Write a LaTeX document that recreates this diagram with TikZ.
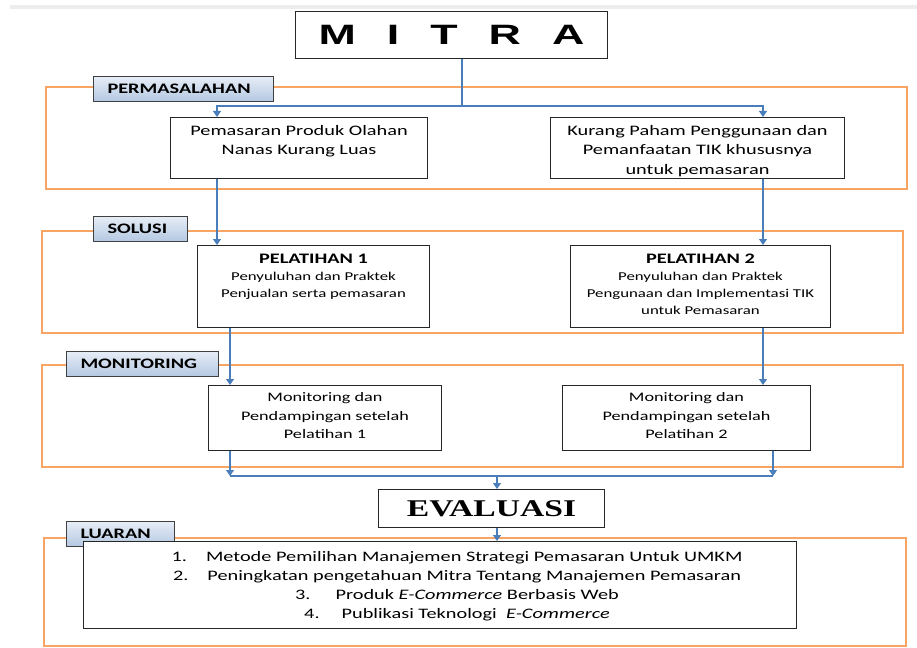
\documentclass[tikz,border=0pt]{standalone}
\usepackage{fontspec}
\setmainfont{Carlito}[FakeStretch=1.4]
\newfontfamily\mitrafont{Liberation Sans}[FakeStretch=1.6]
\newfontfamily\evalfont{Liberation Serif}[FakeStretch=1.4]
\usetikzlibrary{arrows.meta,positioning}
\definecolor{frameorange}{HTML}{F8A465}
\definecolor{linkblue}{HTML}{4A7EBB}
\definecolor{tagtop}{HTML}{E6EDF6}
\definecolor{tagbottom}{HTML}{B4C8E2}
\tikzset{
    frame/.style={
           draw=frameorange,
           line width=1.6pt,
           },
    tag/.style={
           draw=black!75, line width=1pt,
           top color=tagtop, bottom color=tagbottom,
           font=\fontsize{14.5}{17}\selectfont\bfseries,
           anchor=north west,
           inner xsep=14pt, inner ysep=0pt,
           minimum height=25pt,
           align=left,
           },
    box/.style={
           draw=black!85, line width=1pt,
           fill=white,
           anchor=north west,
           inner sep=0pt,
           },
    link/.style={
           draw=linkblue, line width=1.1pt,
           -{Triangle[width=8pt,length=6pt]},
           },
}
% box text: width, height, first baseline, lines
\newcommand{\boxtext}[4]{\parbox[c][#2][t]{#1}{\centering\rule{0pt}{#3}#4}}

\begin{document}
\begin{tikzpicture}[x=1pt,y=-1pt,font=\fontsize{14.5}{19.5}\selectfont]
 \useasboundingbox (0,0) rectangle (917,647);
 \fill[black!7] (10,5) rectangle (917,9);

 % frames
 \draw[frame] (46,87) rectangle (907,189);
 \draw[frame] (42,231) rectangle (903,333);
 \draw[frame] (42,365) rectangle (903,467);
 \draw[frame] (44,538) rectangle (906,646);

 % columns of the connectors
 \coordinate (colL) at (217,0);
 \coordinate (colL2) at (230,0);
 \coordinate (colR) at (763,0);
 \coordinate (colR2) at (773,0);
 \coordinate (colM) at (462,0);
 \coordinate (colE) at (497,0);

 \node[box, minimum width=312pt, minimum height=47pt] (mitra) at (295,11)
 {\mitrafont\bfseries\fontsize{28}{30}\selectfont
  M\hspace{31pt}I\hspace{31pt}T\hspace{31pt}R\hspace{31pt}A};

 \node[tag, text width=152pt] (tagMasalah) at (93,76) {PERMASALAHAN};
 \node[tag, text width=66pt] (tagSolusi) at (93,216) {SOLUSI};
 \node[tag, text width=124pt] (tagMonitor) at (66,351) {MONITORING};
 \node[tag, text width=80pt] (tagLuaran) at (66,521) {LUARAN};

 \node[box] (prob1) at (170,117)
 {\boxtext{257pt}{61pt}{18pt}{Pemasaran Produk Olahan\\ Nanas Kurang Luas}};
 \node[box] (prob2) at (550,117)
 {\boxtext{294pt}{61pt}{18pt}{Kurang Paham Penggunaan dan\\
  Pemanfaatan TIK khususnya\\ untuk pemasaran}};

 \node[box] (pel1) at (197,245)
 {\boxtext{232pt}{82pt}{18pt}{\textbf{PELATIHAN 1}\\
  \fontsize{12}{17}\selectfont Penyuluhan dan Praktek\\
  Penjualan serta pemasaran}};
 \node[box] (pel2) at (570,245)
 {\boxtext{260pt}{82pt}{18pt}{\textbf{PELATIHAN 2}\\
  \fontsize{12}{17}\selectfont Penyuluhan dan Praktek\\
  Pengunaan dan Implementasi TIK\\ untuk Pemasaran}};

 \node[box, font=\fontsize{13}{18.5}\selectfont] (mon1) at (208,385)
 {\boxtext{233pt}{65pt}{16pt}{Monitoring dan\\ Pendampingan setelah\\ Pelatihan 1}};
 \node[box, font=\fontsize{13}{18.5}\selectfont] (mon2) at (562,385)
 {\boxtext{248pt}{65pt}{16pt}{Monitoring dan\\ Pendampingan setelah\\ Pelatihan 2}};

 \node[box, minimum width=226pt, minimum height=38pt] (eval) at (378,489)
 {\evalfont\bfseries\fontsize{24}{26}\selectfont EVALUASI};

 \node[box, font=\fontsize{14.5}{19}\selectfont] (luaran) at (83,541)
 {\boxtext{713pt}{87pt}{20pt}{%
  \hspace*{34pt}1.\hspace{19pt}Metode Pemilihan Manajemen Strategi Pemasaran Untuk UMKM\\
  \hspace*{34pt}2.\hspace{19pt}Peningkatan pengetahuan Mitra Tentang Manajemen Pemasaran\\
  \hspace*{34pt}3.\hspace{25pt}Produk \textit{E-Commerce} Berbasis Web\\
  \hspace*{34pt}4.\hspace{22pt}Publikasi Teknologi\ \ \textit{E-Commerce}}};

 % connectors
 \coordinate (split) at (462,106);
 \coordinate (join) at (497,476);
 \draw[link] (mitra.south -| colM) -- (split) -| (prob1.north -| colL);
 \draw[link] (split) -| (prob2.north -| colR);
 \draw[link] (prob1.south -| colL) -- (pel1.north -| colL);
 \draw[link] (prob2.south -| colR) -- (pel2.north -| colR);
 \draw[link] (pel1.south -| colL2) -- (mon1.north -| colL2);
 \draw[link] (pel2.south -| colR) -- (mon2.north -| colR);
 \draw[link] (mon1.south -| colL2) -- (join -| colL2);
 \draw[link] (mon2.south -| colR2) -- (join -| colR2);
 \draw[link, -] (join -| colL2) -- (join -| colR2);
 \draw[link] (join) -- (eval.north -| colE);
 \draw[link] (eval.south -| colE) -- (luaran.north -| colE);

\end{tikzpicture}
\end{document}
